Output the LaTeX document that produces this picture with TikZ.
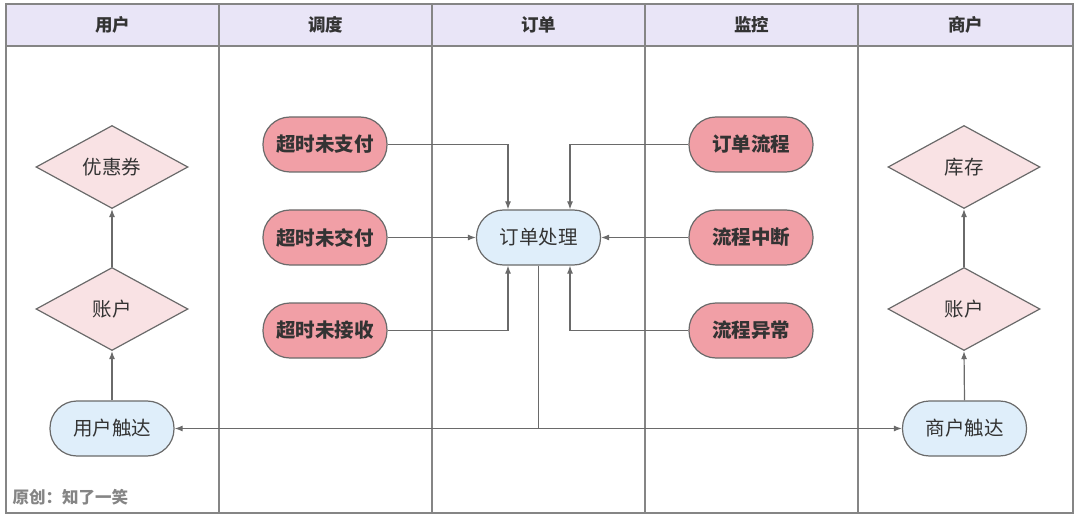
\documentclass[tikz,border=0pt]{standalone}
\usepackage{fontspec}
\setmainfont{Noto Sans CJK SC}
\usetikzlibrary{shapes.geometric,arrows.meta}
\definecolor{hdr}{HTML}{E9E5F7}
\definecolor{frame}{HTML}{858585}
\definecolor{edge}{HTML}{6A6A6A}
\definecolor{redfill}{HTML}{F19FA6}
\definecolor{bluefill}{HTML}{DFEEFA}
\definecolor{dfill}{HTML}{F9E2E4}
\definecolor{txt}{HTML}{333333}
\tikzset{
  pill/.style={draw=edge, line width=1.2pt, rounded corners=27pt, minimum width=124pt, minimum height=55pt, inner sep=0pt, text=txt, font=\fontsize{19.5}{21}\selectfont},
  redpill/.style={pill, fill=redfill, font=\fontsize{19.5}{21}\selectfont\bfseries},
  bluepill/.style={pill, fill=bluefill},
  dia/.style={diamond, draw=edge, line width=1.2pt, fill=dfill, minimum width=152pt, minimum height=83pt, inner sep=0pt, text=txt, font=\fontsize{19.5}{21}\selectfont},
  hdrtext/.style={text=txt, font=\fontsize{17.5}{19}\selectfont\bfseries},
  conn/.style={draw=edge, line width=1.2pt},
  arr/.style={conn, -{Latex[length=8pt,width=6pt]}}
}
\begin{document}
\begin{tikzpicture}[x=1pt,y=-1pt]
\useasboundingbox (0,0) rectangle (1080,516);
% swimlanes
\fill[hdr] (6,4) rectangle (1073,46);
\draw[frame, line width=1.5pt] (6,4) rectangle (1073,513);
\draw[frame, line width=1.5pt] (6,46) -- (1073,46);
\foreach \x in {219,432,645,858} \draw[frame, line width=1.5pt] (\x,4) -- (\x,513);
\node[hdrtext] (h1) at (112.5,25) {用户};
\node[hdrtext] (h2) at (325.5,25) {调度};
\node[hdrtext] (h3) at (538.5,25) {订单};
\node[hdrtext] (h4) at (751.5,25) {监控};
\node[hdrtext] (h5) at (965.5,25) {商户};
% user lane
\node[dia] (coupon) at (112,167) {优惠券};
\node[dia] (uacc) at (112,309) {账户};
\node[bluepill] (ureach) at (112,428.5) {用户触达};
% dispatch lane
\node[redpill] (t1) at (325,144.5) {超时未支付};
\node[redpill] (t2) at (325,237.5) {超时未交付};
\node[redpill] (t3) at (325,330.5) {超时未接收};
% order lane
\node[bluepill] (ord) at (538.5,237.5) {订单处理};
% monitor lane
\node[redpill] (m1) at (751,144.5) {订单流程};
\node[redpill] (m2) at (751,237.5) {流程中断};
\node[redpill] (m3) at (751,330.5) {流程异常};
% merchant lane
\node[dia] (stock) at (964,167) {库存};
\node[dia] (macc) at (964,309) {账户};
\node[bluepill] (mreach) at (964.5,428.5) {商户触达};
% watermark
\node[anchor=west, text=frame, font=\fontsize{16.5}{18}\selectfont\bfseries] (wm) at (9,497) {原创：知了一笑};
% connectors
\draw[arr] (t1.east) -| ([xshift=-30.5pt]ord.north);
\draw[arr] (t2.east) -- (ord.west);
\draw[arr] (t3.east) -| ([xshift=-30.5pt]ord.south);
\draw[arr] (m1.west) -| ([xshift=31.5pt]ord.north);
\draw[arr] (m2.west) -- (ord.east);
\draw[arr] (m3.west) -| ([xshift=31.5pt]ord.south);
\draw[conn] (ord.south) -- (ord.south |- ureach.east) coordinate (j);
\draw[arr] (j) -- (ureach.east);
\draw[arr] (j) -- (mreach.west);
\draw[arr] (ureach.north) -- (uacc.south);
\draw[arr] (uacc.north) -- (coupon.south);
\draw[arr] (mreach.north) -- (macc.south);
\draw[arr] (macc.north) -- (stock.south);
\end{tikzpicture}
\end{document}
